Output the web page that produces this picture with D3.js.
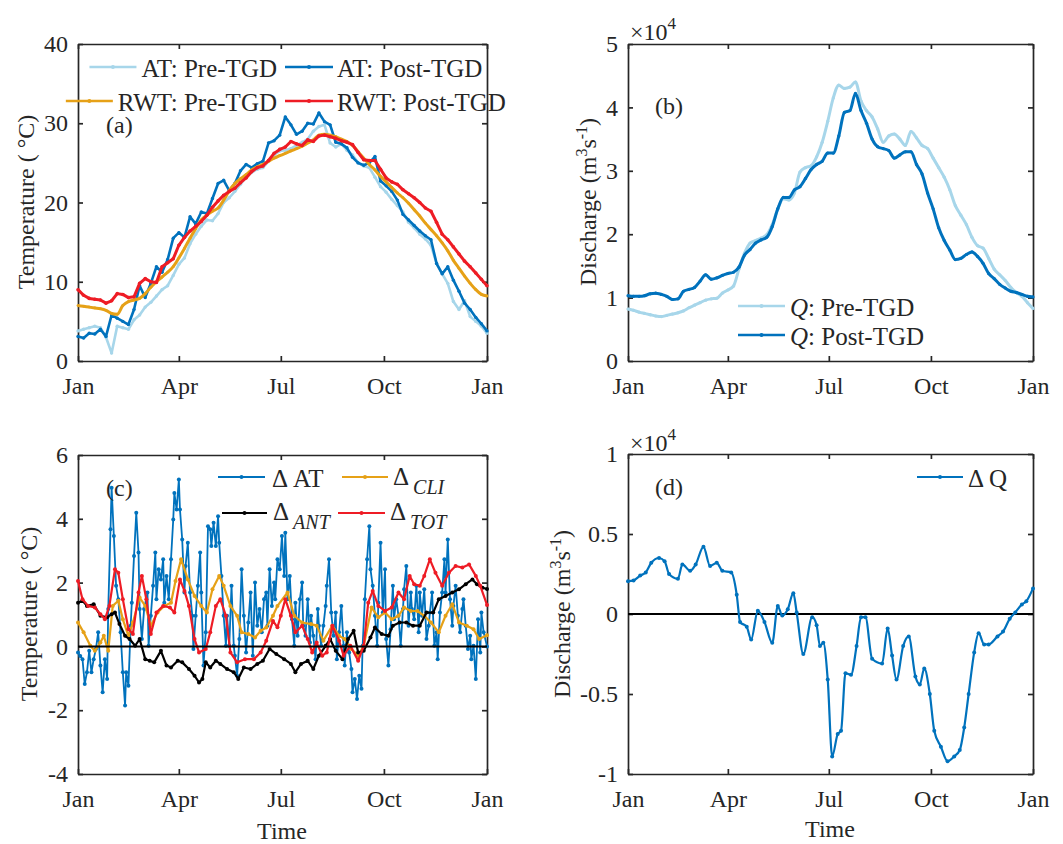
<!DOCTYPE html>
<html>
<head>
<meta charset="utf-8">
<script src="https://cdn.jsdelivr.net/npm/d3@7"></script>
<style>
body { margin: 0; background: #fff; }
svg text { font-family: "Liberation Serif", "Times New Roman", serif; fill: #262626; }
.axis { color: #262626; }
.axis text { font-size: 24px; }
.lab { font-size: 24px; }
.leg { font-size: 25px; }
</style>
</head>
<body>
<div id="wrapper"></div>
<script>
// ---- data (day of year) ----
var monthTicks = [0, 90, 181, 273, 365];
var monthNames = ["Jan", "Apr", "Jul", "Oct", "Jan"];
var days5 = d3.range(0, 366, 5); // one value every 5 days

// (a) air temperature and river water temperature, deg C
var atPre = [3.8,4.0,4.2,4.4,4.2,3.0,1.0,4.4,4.2,4.0,
  5.2,5.8,6.8,7.4,8.2,9.0,9.5,10.8,12.2,13.0,
  14.8,16.0,17.0,17.8,17.7,18.6,20.0,20.6,21.4,22.3,
  23.2,23.8,24.2,24.4,25.2,26.0,26.5,26.6,26.8,27.2,
  27.6,28.0,29.0,29.6,29.8,27.5,27.0,27.4,26.6,26.0,
  25.0,24.6,24.4,23.2,22.0,21.3,20.4,19.6,18.8,17.5,
  16.8,16.0,15.4,14.6,12.3,11.0,9.8,7.5,6.5,7.6,
  5.6,5.0,4.4,3.5];
var atPost = [3.1,2.9,3.5,3.4,4.0,3.1,5.8,5.4,5.0,4.6,
  6.5,9.5,8.0,9.8,11.9,11.2,12.8,15.5,16.2,15.6,
  18.2,17.3,18.8,18.6,20.5,22.4,22.8,21.5,22.4,24.0,
  24.8,24.4,24.9,25.2,27.5,27.8,28.5,30.8,29.8,28.6,
  29.0,30.0,29.9,31.3,30.2,29.8,27.6,27.4,26.9,25.7,
  25.0,24.7,25.0,25.8,22.7,22.1,21.4,20.3,18.5,17.8,
  17.1,16.4,15.8,15.3,12.3,11.0,11.9,10.2,8.8,7.3,
  6.5,5.5,4.7,3.8];
var rwtPre = [7.0,6.9,6.8,6.7,6.6,6.4,6.0,5.9,7.0,7.5,
  7.7,7.9,8.5,9.3,10.0,10.6,11.2,11.9,13.0,14.2,
  15.5,16.7,17.8,18.4,18.9,19.3,20.3,21.5,22.4,23.0,
  23.5,24.1,24.5,24.8,25.2,25.6,25.9,26.2,26.5,26.8,
  27.1,27.5,27.9,28.5,28.6,28.5,28.3,28.0,27.7,27.2,
  26.4,25.6,24.8,24.1,23.3,22.6,21.9,21.2,20.6,19.9,
  19.1,18.3,17.4,16.6,15.8,14.9,13.9,12.7,11.7,10.7,
  9.8,9.0,8.4,8.2];
var rwtPost = [9.0,8.3,7.9,7.8,7.7,7.3,7.6,8.5,8.4,8.0,
  8.1,9.8,10.4,10.0,9.9,11.9,12.4,12.9,14.6,15.6,
  16.4,17.0,17.6,18.4,19.4,20.2,20.9,21.4,21.8,22.5,
  23.1,23.9,24.4,24.6,25.3,26.2,26.7,27.0,27.7,27.4,
  27.2,27.9,27.7,28.4,28.5,28.3,28.1,27.8,27.6,27.3,
  26.3,25.4,25.3,25.3,24.2,23.1,22.6,22.3,21.6,21.1,
  20.6,20.0,19.3,18.9,17.5,16.0,15.3,14.4,13.5,12.6,
  11.9,11.1,10.3,9.5];

// (b) discharge, x 10^4 m3/s
var qPre = [0.82,0.80,0.77,0.75,0.73,0.71,0.70,0.72,0.74,0.76,
  0.79,0.84,0.88,0.92,0.96,0.98,0.99,1.07,1.12,1.18,
  1.45,1.70,1.86,1.90,1.94,1.99,2.15,2.40,2.56,2.54,
  2.65,2.98,3.05,3.08,3.22,3.45,3.78,4.15,4.35,4.30,
  4.32,4.40,4.10,3.95,3.85,3.66,3.45,3.55,3.58,3.50,
  3.40,3.62,3.52,3.40,3.35,3.20,3.05,2.90,2.70,2.45,
  2.30,2.15,1.95,1.82,1.78,1.62,1.45,1.36,1.27,1.16,
  1.08,1.02,0.92,0.83];
var qPost = [1.03,1.02,1.02,1.03,1.06,1.07,1.05,1.02,0.97,0.98,
  1.10,1.13,1.16,1.26,1.36,1.29,1.31,1.35,1.38,1.40,
  1.48,1.67,1.76,1.86,1.91,1.95,2.12,2.40,2.58,2.58,
  2.70,2.75,2.88,3.02,3.10,3.15,3.28,3.28,3.55,3.92,
  3.95,4.22,3.95,3.75,3.50,3.38,3.35,3.32,3.20,3.25,
  3.30,3.30,3.10,2.95,2.65,2.40,2.10,1.90,1.75,1.60,
  1.62,1.68,1.72,1.65,1.54,1.38,1.30,1.21,1.15,1.10,
  1.08,1.05,1.02,1.01];

// (c) temperature differences, [day, deg C]
var dAT = [[0,-0.19],[2,-0.30],[4,-0.40],[6,-1.18],[8,-0.81],[10,-0.14],[12,-0.81],[14,-0.40],[16,-0.08],[18,0.44],
  [20,-0.60],[22,-1.44],[24,-0.40],[26,-1.02],[27,1.17],[29,3.67],[30,4.97],[32,3.46],[34,1.90],[36,1.48],
  [38,0.44],[40,-0.81],[42,-1.85],[43,-0.81],[45,-1.23],[47,0.65],[48,1.37],[50,2.83],[52,4.19],[54,2.94],
  [55,1.17],[57,0.23],[59,1.17],[62,1.69],[63,0.02],[65,0.96],[67,1.90],[69,2.94],[70,1.48],[72,2.42],
  [74,2.10],[76,2.73],[77,1.37],[79,2.21],[81,1.48],[83,2.73],[85,3.98],[86,4.81],[88,4.29],[90,5.23],
  [91,4.29],[93,3.35],[95,1.69],[96,2.52],[98,3.25],[100,1.69],[102,0.96],[103,-0.08],[105,0.96],[107,1.90],
  [109,2.94],[110,1.69],[112,-0.60],[114,0.44],[116,3.77],[118,3.67],[119,3.15],[121,3.88],[123,3.15],[125,4.08],
  [126,3.25],[128,2.21],[130,0.96],[132,0.02],[133,0.96],[135,0.02],[137,1.90],[139,0.02],[140,-0.29],[142,-0.92],
  [144,0.23],[146,2.42],[148,0.96],[150,-0.19],[152,0.75],[154,1.69],[156,-0.29],[158,2.00],[160,0.65],[162,1.17],
  [164,0.44],[166,1.48],[168,1.69],[169,0.65],[171,2.42],[173,1.27],[175,2.00],[176,1.48],[178,2.73],[180,2.42],
  [182,3.46],[184,2.21],[185,3.56],[187,1.48],[189,2.21],[191,0.85],[193,0.02],[194,1.37],[196,0.33],[198,1.48],
  [200,2.00],[201,0.65],[203,0.33],[205,1.48],[207,0.12],[208,0.96],[210,0.33],[212,-0.40],[214,1.17],[215,0.65],
  [217,0.02],[219,0.65],[221,1.27],[222,1.90],[224,2.73],[226,1.06],[228,0.33],[230,1.06],[231,-0.40],[233,0.44],
  [235,1.27],[237,0.02],[238,-0.60],[240,0.44],[242,-0.19],[244,-0.71],[245,-1.44],[247,-1.02],[249,-1.65],[251,-0.92],
  [253,-1.33],[254,0.02],[256,1.48],[258,2.73],[260,3.77],[261,2.42],[263,1.90],[265,0.96],[267,0.02],[268,1.37],
  [270,3.25],[272,1.06],[274,2.42],[275,0.23],[277,-0.60],[279,0.54],[281,1.90],[282,0.85],[284,1.48],[286,0.96],
  [288,0.02],[290,1.17],[291,1.79],[293,2.52],[295,0.65],[297,1.69],[298,1.17],[300,0.85],[302,1.90],[304,0.44],
  [305,1.69],[307,0.96],[309,1.79],[311,0.23],[313,0.65],[314,1.06],[316,1.69],[318,0.02],[320,0.44],[321,-0.40],
  [323,1.06],[325,1.69],[327,2.73],[328,1.69],[330,3.35],[332,1.48],[334,0.65],[335,1.27],[337,1.90],[339,0.96],
  [341,0.44],[343,1.17],[344,1.48],[346,0.65],[348,-0.08],[350,0.33],[351,-0.40],[353,0.02],[355,-1.02],[357,0.85],
  [359,-0.19],[360,1.06],[362,0.44],[365,0.00]];
var dCLI = [[0,0.75],[5,0.44],[11,0.02],[15,-0.14],[20,0.12],[23,0.33],[27,-0.14],[31,1.27],[36,1.43],[40,0.85],
  [45,0.33],[49,0.75],[55,1.53],[60,1.27],[65,0.65],[71,1.06],[77,1.27],[83,1.37],[87,2.05],[92,2.73],
  [98,2.10],[104,1.58],[110,1.27],[115,1.06],[120,1.79],[126,2.21],[130,1.90],[136,1.27],[142,0.96],[146,0.44],
  [152,0.39],[158,0.28],[163,0.49],[168,0.59],[174,0.96],[178,1.27],[187,1.69],[193,0.96],[200,0.75],[208,0.70],
  [213,0.65],[219,0.18],[227,0.65],[233,0.33],[238,0.23],[244,-0.08],[250,-0.29],[255,0.02],[262,1.22],[268,0.91],
  [274,1.06],[280,0.85],[286,0.96],[291,1.22],[297,1.11],[303,1.11],[309,0.96],[315,0.75],[322,0.44],[328,0.96],
  [334,1.32],[340,0.75],[347,0.65],[353,0.54],[358,0.23],[365,0.35]];
var dANT = [[0,1.37],[4,1.43],[8,1.27],[14,1.32],[20,0.96],[26,0.91],[30,1.01],[33,1.06],[37,0.70],[42,0.33],
  [46,0.23],[51,0.02],[55,0.23],[60,-0.40],[64,-0.45],[68,-0.50],[74,-0.14],[79,-0.60],[83,-0.66],[89,-0.45],
  [93,-0.50],[99,-0.71],[104,-0.92],[108,-1.13],[111,-1.02],[114,-0.50],[118,-0.66],[123,-0.45],[127,-0.55],[133,-0.71],
  [139,-0.81],[143,-1.02],[148,-0.66],[154,-0.71],[160,-0.55],[165,-0.45],[171,-0.08],[177,-0.24],[184,-0.40],[190,-0.55],
  [194,-0.81],[199,-0.55],[205,-0.45],[210,-0.71],[215,-0.29],[221,0.02],[225,0.23],[230,-0.14],[236,-0.40],[241,0.23],
  [246,0.49],[250,-0.19],[255,-0.14],[261,0.28],[265,0.59],[271,0.39],[277,0.33],[281,0.65],[287,0.75],[293,0.75],
  [299,0.65],[305,0.65],[311,1.06],[317,1.06],[322,1.48],[328,1.58],[334,1.69],[340,1.79],[346,1.95],[352,2.10],
  [356,1.95],[361,1.84],[365,1.80]];
var dTOT = [[0,2.05],[4,1.48],[9,1.27],[15,1.22],[20,1.01],[24,0.85],[28,1.27],[33,2.42],[36,2.31],[40,1.48],
  [45,0.54],[49,0.39],[54,1.69],[57,2.21],[61,1.48],[65,0.39],[70,1.06],[76,1.27],[82,1.22],[86,1.06],
  [91,2.10],[95,1.74],[99,1.27],[104,0.23],[108,-0.19],[114,-0.08],[118,0.44],[123,1.27],[127,1.48],[132,0.96],
  [136,-0.19],[142,-0.50],[149,-0.40],[157,-0.40],[163,-0.19],[168,0.18],[174,0.80],[178,0.60],[181,0.96],[185,1.48],
  [190,0.96],[194,0.44],[200,0.65],[205,0.23],[209,-0.19],[213,0.12],[218,-0.29],[222,-0.19],[227,0.65],[233,0.18],
  [237,-0.29],[243,0.02],[250,-0.45],[255,0.02],[259,1.37],[263,1.74],[268,1.27],[274,1.11],[280,1.22],[286,1.69],
  [291,1.48],[296,2.21],[300,1.95],[305,1.90],[309,2.21],[314,2.73],[319,2.31],[325,1.90],[331,2.31],[337,2.52],
  [343,2.47],[349,2.57],[355,2.21],[359,1.90],[365,1.30]];

// (d) discharge difference, [day, x 10^4 m3/s]
var dQ = [[0,0.205],[5,0.21],[11,0.24],[16,0.26],[21,0.32],[28,0.35],[33,0.33],[37,0.25],[45,0.22],[49,0.31],
  [56,0.27],[61,0.31],[68,0.42],[74,0.30],[80,0.32],[85,0.27],[93,0.26],[98,0.12],[101,-0.05],[107,-0.08],
  [111,-0.16],[117,0.02],[123,-0.05],[130,-0.18],[135,0.05],[139,-0.01],[144,0.03],[149,0.13],[152,0.01],[158,-0.25],
  [166,-0.02],[170,-0.07],[173,-0.20],[176,-0.18],[180,-0.41],[184,-0.89],[189,-0.75],[192,-0.73],[196,-0.37],[201,-0.38],
  [206,-0.20],[210,-0.02],[214,-0.02],[220,-0.28],[229,-0.31],[234,-0.09],[238,-0.26],[242,-0.41],[248,-0.20],[253,-0.14],
  [259,-0.39],[263,-0.44],[267,-0.34],[272,-0.50],[276,-0.73],[282,-0.83],[288,-0.92],[294,-0.89],[299,-0.85],[303,-0.71],
  [307,-0.50],[312,-0.24],[316,-0.12],[321,-0.19],[325,-0.19],[333,-0.14],[338,-0.11],[344,-0.03],[349,0.01],[355,0.06],
  [359,0.08],[365,0.16]];

// ---- colours ----
var cLight = "#a7d6ea", cBlue = "#0072bd", cOrange = "#e6a117", cRed = "#ee1c25", cBlack = "#000000";

var svg = d3.select("#wrapper").append("svg")
    .attr("width", 1063).attr("height", 844);

// Function: panel with box axes, ticks inside
var makePanel = function(box, yDomain, yTicks) {
    var x = d3.scaleLinear().domain([0, 365]).range([box.x0, box.x1]);
    var y = d3.scaleLinear().domain(yDomain).range([box.y1, box.y0]);
    var g = svg.append("g");
    var none = function() { return ""; };

    g.append("g").attr("class", "axis").attr("transform", "translate(0," + box.y1 + ")")
        .call(d3.axisBottom(x).tickValues(monthTicks).tickFormat(function(d, i) { return monthNames[i]; })
            .tickSizeInner(-5).tickSizeOuter(0).tickPadding(16));
    g.append("g").attr("class", "axis").attr("transform", "translate(0," + box.y0 + ")")
        .call(d3.axisTop(x).tickValues(monthTicks).tickFormat(none).tickSizeInner(-5).tickSizeOuter(0));
    g.append("g").attr("class", "axis").attr("transform", "translate(" + box.x0 + ",0)")
        .call(d3.axisLeft(y).tickValues(yTicks).tickFormat(function(d) { return String(d); })
            .tickSizeInner(-5).tickSizeOuter(0).tickPadding(10));
    g.append("g").attr("class", "axis").attr("transform", "translate(" + box.x1 + ",0)")
        .call(d3.axisRight(y).tickValues(yTicks).tickFormat(none).tickSizeInner(-5).tickSizeOuter(0));

    g.selectAll(".axis").attr("font-size", null).attr("font-family", null);
    g.selectAll(".axis path, .axis line").attr("stroke-width", 1.7);
    return {g: g, x: x, y: y};
};

// Function: line with small dot markers
var addLine = function(p, pts, color, width, r, curve) {
    var line = d3.line()
        .x(function(d) { return p.x(d[0]); })
        .y(function(d) { return p.y(d[1]); })
        .curve(curve || d3.curveLinear);
    p.g.append("path").datum(pts)
        .attr("fill", "none").attr("stroke", color)
        .attr("stroke-width", width).attr("stroke-linejoin", "round")
        .attr("d", line);
    p.g.selectAll(null).data(pts).enter().append("circle")
        .attr("cx", function(d) { return p.x(d[0]); })
        .attr("cy", function(d) { return p.y(d[1]); })
        .attr("r", r).attr("fill", color);
};

var zip5 = function(vals) { return vals.map(function(v, i) { return [days5[i], v]; }); };

var legendSample = function(x1, x2, y, color, w) {
    svg.append("line").attr("x1", x1).attr("x2", x2).attr("y1", y).attr("y2", y)
        .attr("stroke", color).attr("stroke-width", w);
    svg.append("circle").attr("cx", (x1 + x2) / 2).attr("cy", y).attr("r", 2).attr("fill", color);
};

var yLabel = function(x, y, build) {
    var t = svg.append("text").attr("class", "lab")
        .attr("transform", "translate(" + x + "," + y + ") rotate(-90)")
        .attr("text-anchor", "middle");
    build(t);
};

var dischargeLabel = function(t) {
    t.append("tspan").text("Discharge (m");
    t.append("tspan").attr("dy", -9).style("font-size", "16px").text("3");
    t.append("tspan").attr("dy", 9).text("s");
    t.append("tspan").attr("dy", -9).style("font-size", "16px").text("-1");
    t.append("tspan").attr("dy", 9).text(")");
};

var timesTen = function(x, y) {
    var t = svg.append("text").attr("class", "lab").attr("x", x).attr("y", y);
    t.append("tspan").text("\u00d710");
    t.append("tspan").attr("dy", -11).style("font-size", "17px").text("4");
};

// ================= (a) =================
var pa = makePanel({x0: 78, x1: 487, y0: 44, y1: 361}, [0, 40], [0, 10, 20, 30, 40]);
addLine(pa, zip5(atPre), cLight, 2.6, 1.7);
addLine(pa, zip5(atPost), cBlue, 2.6, 1.7);
addLine(pa, zip5(rwtPre), cOrange, 3, 1.4, d3.curveMonotoneX);
addLine(pa, zip5(rwtPost), cRed, 3, 1.8);

yLabel(34, 202, function(t) { t.text("Temperature ( \u00b0C)"); });
svg.append("text").attr("class", "lab").attr("x", 106).attr("y", 133).text("(a)");

var legA = [
    {label: "AT: Pre-TGD", color: cLight, col: 0, y: 67},
    {label: "AT: Post-TGD", color: cBlue, col: 1, y: 67},
    {label: "RWT: Pre-TGD", color: cOrange, col: 0, y: 101},
    {label: "RWT: Post-TGD", color: cRed, col: 1, y: 101}
];
legA.forEach(function(d) {
    var t = svg.append("text").attr("class", "leg").attr("y", d.y + 10).text(d.label);
    if (d.col === 0) {
        var w = t.node().getComputedTextLength();
        var start = 277 - w;
        t.attr("x", start);
        legendSample(start - 52, start - 5, d.y, d.color, 2.6);
    } else {
        t.attr("x", 337);
        legendSample(285, 333, d.y, d.color, 2.6);
    }
});

// ================= (b) =================
var pb = makePanel({x0: 628, x1: 1033, y0: 44, y1: 361}, [0, 5], [0, 1, 2, 3, 4, 5]);
addLine(pb, zip5(qPre), cLight, 3, 1.6, d3.curveMonotoneX);
addLine(pb, zip5(qPost), cBlue, 3, 1.6, d3.curveMonotoneX);

yLabel(596, 202, dischargeLabel);
timesTen(630, 40);
svg.append("text").attr("class", "lab").attr("x", 655).attr("y", 114).text("(b)");

[{label: "Pre-TGD", color: cLight, y: 306}, {label: "Post-TGD", color: cBlue, y: 335}].forEach(function(d) {
    legendSample(738, 785, d.y, d.color, 2.6);
    var t = svg.append("text").attr("class", "leg").attr("x", 790).attr("y", d.y + 10);
    t.append("tspan").style("font-style", "italic").text("Q");
    t.append("tspan").text(": " + d.label);
});

// ================= (c) =================
var pc = makePanel({x0: 78, x1: 487, y0: 455, y1: 774}, [-4, 6], [-4, -2, 0, 2, 4, 6]);
addLine(pc, dAT, cBlue, 1.8, 2);
addLine(pc, dCLI, cOrange, 2.2, 2);
addLine(pc, dANT, cBlack, 2.2, 2);
addLine(pc, dTOT, cRed, 2.2, 2);
pc.g.append("line").attr("x1", pc.x(0)).attr("x2", pc.x(365))
    .attr("y1", pc.y(0)).attr("y2", pc.y(0)).attr("stroke", "#000").attr("stroke-width", 2);

yLabel(37, 614, function(t) { t.text("Temperature ( \u00b0C)"); });
svg.append("text").attr("class", "lab").attr("x", 282).attr("y", 839).attr("text-anchor", "middle").text("Time");
svg.append("text").attr("class", "lab").attr("x", 106).attr("y", 496).text("(c)");

var deltaEntry = function(x, y, sub, plain) {
    var t = svg.append("text").attr("class", "leg").attr("x", x).attr("y", y);
    t.append("tspan").text("\u0394");
    if (plain) {
        t.append("tspan").text(" " + plain);
    } else {
        t.append("tspan").attr("dy", 9).attr("dx", 4).style("font-size", "20px")
            .style("font-style", "italic").text(sub);
    }
};
legendSample(218, 265, 477, cBlue, 2);
deltaEntry(272, 487, null, "AT");
legendSample(342, 388, 477, cOrange, 2);
deltaEntry(393, 485, "CLI");
legendSample(222, 267, 513, cBlack, 2);
deltaEntry(273, 520, "ANT");
legendSample(338, 385, 513, cRed, 2);
deltaEntry(390, 520, "TOT");

// ================= (d) =================
var pd = makePanel({x0: 628, x1: 1033, y0: 454, y1: 774}, [-1, 1], [-1, -0.5, 0, 0.5, 1]);
pd.g.append("line").attr("x1", pd.x(0)).attr("x2", pd.x(365))
    .attr("y1", pd.y(0)).attr("y2", pd.y(0)).attr("stroke", "#000").attr("stroke-width", 2);
addLine(pd, dQ, cBlue, 2.2, 2, d3.curveMonotoneX);

yLabel(570, 614, dischargeLabel);
timesTen(630, 451);
svg.append("text").attr("class", "lab").attr("x", 830).attr("y", 837).attr("text-anchor", "middle").text("Time");
svg.append("text").attr("class", "lab").attr("x", 655).attr("y", 495).text("(d)");
legendSample(917, 963, 477, cBlue, 2);
deltaEntry(968, 487, null, "Q");
</script>
</body>
</html>
